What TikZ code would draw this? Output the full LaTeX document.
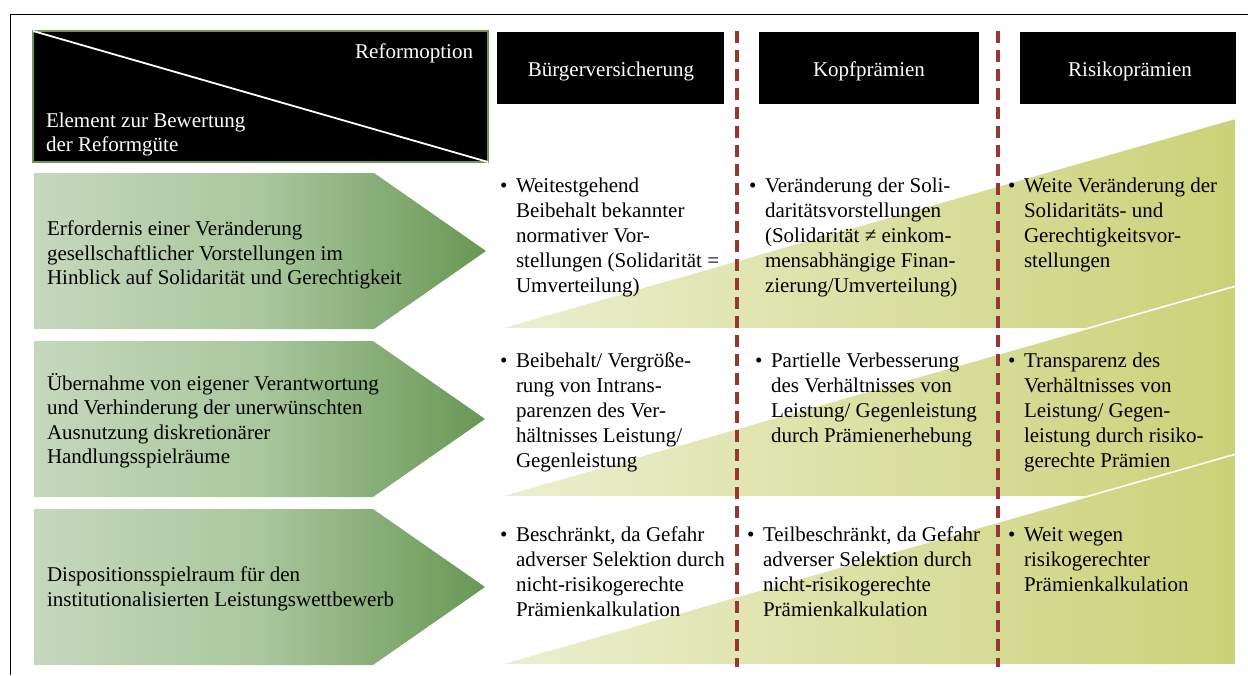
\documentclass[tikz,border=0pt]{standalone}
\usepackage{fontspec}
\setmainfont{Liberation Serif}
\definecolor{framegreen}{RGB}{112,150,80}
\definecolor{arrowlight}{RGB}{197,216,189}
\definecolor{arrowmid}{RGB}{170,199,157}
\definecolor{arrowdark}{RGB}{104,151,84}
\definecolor{wedgelight}{RGB}{236,239,208}
\definecolor{wedgedark}{RGB}{202,210,120}
\definecolor{sepred}{RGB}{150,55,50}
\pgfdeclarehorizontalshading{arrowfade}{100bp}{color(0bp)=(arrowlight); color(25bp)=(arrowlight); color(50bp)=(arrowmid); color(75bp)=(arrowdark); color(100bp)=(arrowdark)}
% one bulleted cell entry: name, text x, first baseline, lines
\newcommand\cellitem[4]{%
  \node[dotmark] (#1b) at (#2-16, #3-17.64) {\strut\textbullet};
  \node[celltxt] (#1) at (#2, #3-17.64) {\strut #4};
}
\begin{document}
\begin{tikzpicture}[x=1pt,y=-1pt,
  every node/.style={inner sep=0pt,outer sep=0pt},
  bodyfont/.style={font=\fontsize{21}{24.5}\selectfont},
  cellfont/.style={font=\fontsize{21}{25.2}\selectfont},
  arrowtxt/.style={bodyfont, align=left, anchor=west},
  celltxt/.style={cellfont, align=left, anchor=north west},
  dotmark/.style={cellfont, anchor=north west},
  headbox/.style={fill=black, anchor=north west, minimum height=72pt},
  headtxt/.style={bodyfont, text=white, anchor=base},
  arrowshape/.style={shading=arrowfade},
  wedge/.style={left color=wedgelight, right color=wedgedark, draw=white, line width=1.6pt},
  sepline/.style={draw=sepred, line width=3.2pt, dash pattern=on 12pt off 7pt},
]
\useasboundingbox (0,0) rectangle (1248,675);

% outer frame (top and left edges)
\draw[line width=1.6pt] (10.5,675) -- (10.5,14.5) -- (1248,14.5);

% corner header cell
\node[draw=framegreen, fill=black, line width=2pt, minimum width=455pt, minimum height=131pt, anchor=north west] (corner) at (33,31) {};
\draw[white, line width=1.8pt] (corner.north west) -- (corner.south east);
\node[headtxt, anchor=base east] (optlabel) at (473,58) {Reformoption};
\node[bodyfont, text=white, align=left, anchor=north west] (elemlabel) at (46,109.85) {\strut Element zur Bewertung\\der Reformgüte};

% column headers
\node[headbox, minimum width=227pt] (hb1) at (497,32) {};
\node[headbox, minimum width=220pt] (hb2) at (759,32) {};
\node[headbox, minimum width=216pt] (hb3) at (1020,32) {};
\node[headtxt] (ht1) at (611,76) {Bürgerversicherung};
\node[headtxt] (ht2) at (869,76) {Kopfprämien};
\node[headtxt] (ht3) at (1130,76) {Risikoprämien};

% criterion arrows
\shade[arrowshape] (34,173) -- (374,173) -- (486,251) -- (374,329) -- (34,329) -- cycle;
\shade[arrowshape] (34,341) -- (373,341) -- (485,419) -- (373,497) -- (34,497) -- cycle;
\shade[arrowshape] (34,509) -- (373,509) -- (485,587) -- (373,665) -- (34,665) -- cycle;
\node[arrowtxt] (crit1) at (47,255) {Erfordernis einer Veränderung\\gesellschaftlicher Vorstellungen im\\Hinblick auf Solidarität und Gerechtigkeit};
\node[arrowtxt] (crit2) at (47,421) {Übernahme von eigener Verantwortung\\und Verhinderung der unerwünschten\\Ausnutzung diskretionärer\\Handlungsspielräume};
\node[arrowtxt] (crit3) at (47,589) {Dispositionsspielraum für den\\institutionalisierten Leistungswettbewerb};

% rising wedges behind the assessments
\shadedraw[wedge] (497,329) -- (1236,329) -- (1236,118) -- cycle;
\shadedraw[wedge] (497,497) -- (1236,497) -- (1236,286) -- cycle;
\shadedraw[wedge] (497,665) -- (1236,665) -- (1236,454) -- cycle;

% column separators
\coordinate (s1top) at (737,31);
\coordinate (s1bot) at (737,667);
\coordinate (s2top) at (998,31);
\coordinate (s2bot) at (998,667);
\draw[sepline] (s1top) -- (s1bot);
\draw[sepline] (s2top) -- (s2bot);

% assessments
\cellitem{c11}{516}{192}{Weitestgehend\\Beibehalt bekannter\\normativer Vor-\\stellungen (Solidarität =\\Umverteilung)}
\cellitem{c12}{765}{192}{Veränderung der Soli-\\daritätsvorstellungen\\(Solidarität ≠ einkom-\\mensabhängige Finan-\\zierung/Umverteilung)}
\cellitem{c13}{1024}{192}{Weite Veränderung der\\Solidaritäts- und\\Gerechtigkeitsvor-\\stellungen}
\cellitem{c21}{516}{367}{Beibehalt/ Vergröße-\\rung von Intrans-\\parenzen des Ver-\\hältnisses Leistung/\\Gegenleistung}
\cellitem{c22}{771}{367}{Partielle Verbesserung\\des Verhältnisses von\\Leistung/ Gegenleistung\\durch Prämienerhebung}
\cellitem{c23}{1024}{367}{Transparenz des\\Verhältnisses von\\Leistung/ Gegen-\\leistung durch risiko-\\gerechte Prämien}
\cellitem{c31}{516}{541}{Beschränkt, da Gefahr\\adverser Selektion durch\\nicht-risikogerechte\\Prämienkalkulation}
\cellitem{c32}{763}{541}{Teilbeschränkt, da Gefahr\\adverser Selektion durch\\nicht-risikogerechte\\Prämienkalkulation}
\cellitem{c33}{1024}{541}{Weit wegen\\risikogerechter\\Prämienkalkulation}
\end{tikzpicture}
\end{document}
